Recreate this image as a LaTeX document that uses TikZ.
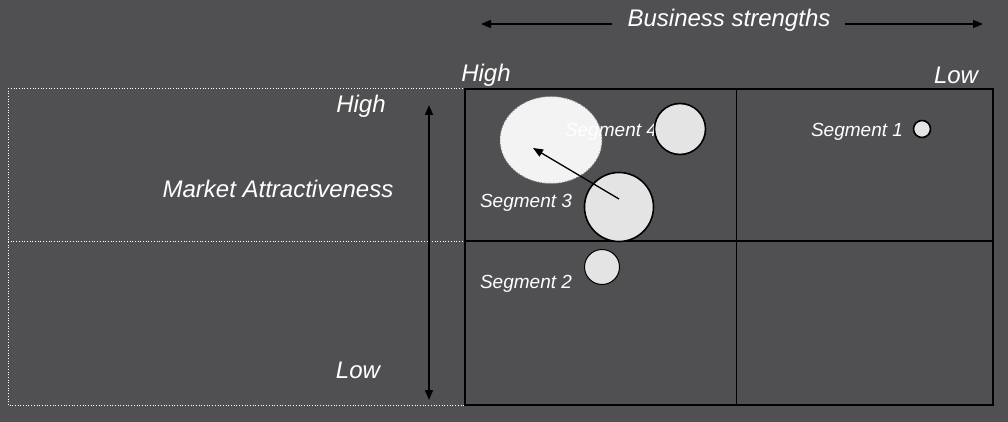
\documentclass[tikz,border=0pt]{standalone}
\usepackage{fontspec}
\setmainfont{Liberation Sans}
\usetikzlibrary{shapes.geometric,arrows.meta}
\definecolor{bg}{RGB}{80,80,82}
\definecolor{bubfill}{RGB}{228,228,228}
\definecolor{ellfill}{RGB}{243,243,243}
\tikzset{
  big/.style={text=white,font=\fontsize{24}{28}\selectfont\itshape,inner sep=0pt},
  seg/.style={text=white,font=\fontsize{19}{22}\selectfont\itshape,inner sep=0pt},
  bub/.style={circle,draw=black,line width=1.6pt,fill=bubfill,inner sep=0pt},
  arr/.style={draw=black,line width=1.5pt,-{Triangle[length=10pt,width=8pt]}},
  darr/.style={draw=black,line width=1.5pt,{Triangle[length=10pt,width=8pt]}-{Triangle[length=10pt,width=8pt]}},
  guide/.style={draw=white,line width=0.7pt,dotted},
}
\begin{document}
\begin{tikzpicture}[x=1pt,y=-1pt]
\fill[bg] (0,0) rectangle (1008,422);
\useasboundingbox (0,0) rectangle (1008,422);
% left dotted guide box
\draw[guide] (8,88) rectangle (465,405);
\draw[guide] (8,241) -- (465,241);
% grid
\draw[black,line width=0.9pt] (736,89) -- (736,405);
\draw[black,line width=2.6pt] (465,241) -- (993,241);
\draw[black,line width=2.8pt] (465,89) rectangle (993,405);
% labels
\node[big] (bs) at (729,20) {Business strengths};
\coordinate (bsL0) at (612,24);
\coordinate (bsL1) at (481,24);
\coordinate (bsR0) at (845,24);
\coordinate (bsR1) at (983,24);
\draw[arr] (bsL0) -- (bsL1);
\draw[arr] (bsR0) -- (bsR1);
\node[big] (hiT) at (486,75) {High};
\node[big] (loT) at (956,75) {Low};
\node[big] (hiL) at (361,106) {High};
\node[big] (ma) at (278,189) {Market Attractiveness};
\node[big] (loL) at (358,370) {Low};
\coordinate (maT) at (429,105);
\coordinate (maB) at (429,400);
\draw[darr] (maB) -- (maT);
% bubbles
\node[ellipse,draw=gray,dotted,line width=1pt,fill=ellfill,minimum width=102pt,minimum height=87pt,inner sep=0pt] (ell) at (551,140) {};
\node[seg] (s4) at (611,132) {Segment 4};
\node[bub,minimum size=51pt] (c4) at (680,129) {};
\node[seg] (s1) at (857,132) {Segment 1};
\node[bub,minimum size=17pt] (c1) at (922,129) {};
\node[seg] (s3) at (526,203) {Segment 3};
\node[bub,minimum size=69pt] (c3) at (619,207) {};
\node[seg] (s2) at (526,284) {Segment 2};
\node[bub,minimum size=35pt,line width=1pt] (c2) at (602,267) {};
\coordinate (tip) at (533,148);
\draw[arr,line width=1.3pt] (619,199) -- (tip);
\end{tikzpicture}
\end{document}
